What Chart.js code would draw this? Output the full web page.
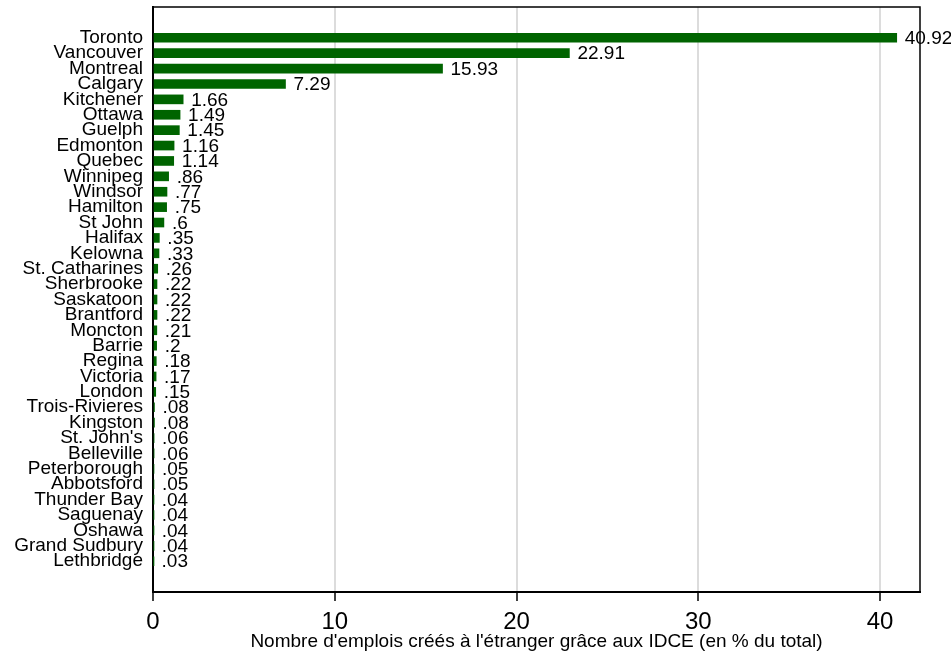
<!DOCTYPE html>
<html>
<head>
<meta charset="utf-8">
<script src="https://cdn.jsdelivr.net/npm/chart.js@4"></script>
<style>
    html, body { margin: 0; padding: 0; background: #fff; }
    #wrap { width: 951px; height: 653px; }
</style>
</head>
<body>
<div id="wrap"><canvas id="jobsChart"></canvas></div>
<script>
// Cities and share of jobs created abroad (% of total)
const cities = ['Toronto', 'Vancouver', 'Montreal', 'Calgary', 'Kitchener', 'Ottawa', 'Guelph',
    'Edmonton', 'Quebec', 'Winnipeg', 'Windsor', 'Hamilton', 'St John', 'Halifax', 'Kelowna',
    'St. Catharines', 'Sherbrooke', 'Saskatoon', 'Brantford', 'Moncton', 'Barrie', 'Regina',
    'Victoria', 'London', 'Trois-Rivieres', 'Kingston', "St. John's", 'Belleville', 'Peterborough',
    'Abbotsford', 'Thunder Bay', 'Saguenay', 'Oshawa', 'Grand Sudbury', 'Lethbridge'];
const shares = [40.92, 22.91, 15.93, 7.29, 1.66, 1.49, 1.45, 1.16, 1.14, .86, .77, .75, .6, .35, .33,
    .26, .22, .22, .22, .21, .2, .18, .17, .15, .08, .08, .06, .06, .05, .05, .04, .04, .04, .04, .03];
const xTicks = [0, 10, 20, 30, 40];
const axisTitle = "Nombre d'emplois créés à l'étranger grâce aux IDCE (en % du total)";

const FONT = '"Liberation Sans", Arial, sans-serif';

// Stata-like number format: drop the leading zero
function fmt(v) {
    return String(v).replace(/^0\./, '.');
}

// Value labels at the end of each bar, plus the top/right frame
const barLabels = {
    id: 'barLabels',
    afterDatasetsDraw(chart) {
        const ctx = chart.ctx;
        const meta = chart.getDatasetMeta(0);
        ctx.save();
        ctx.font = '19px ' + FONT;
        ctx.fillStyle = '#000';
        ctx.textAlign = 'left';
        ctx.textBaseline = 'middle';
        meta.data.forEach((bar, i) => {
            ctx.fillText(fmt(shares[i]), bar.x + 8, bar.y + 1);
        });
        ctx.restore();
    },
    afterDraw(chart) {
        const a = chart.chartArea;
        const ctx = chart.ctx;
        ctx.save();
        ctx.strokeStyle = '#000';
        ctx.lineWidth = 1.5;
        ctx.beginPath();
        ctx.moveTo(a.left, a.top);
        ctx.lineTo(a.right, a.top);
        ctx.lineTo(a.right, a.bottom);
        ctx.stroke();
        ctx.restore();
    }
};

const ctx = document.getElementById('jobsChart').getContext('2d');
new Chart(ctx, {
    type: 'bar',
    data: {
        datasets: [{
            data: shares.map((v, i) => ({ x: v, y: i })),
            backgroundColor: '#006400',
            borderWidth: 0,
            barThickness: 9
        }]
    },
    options: {
        indexAxis: 'y',
        responsive: true,
        maintainAspectRatio: false,
        animation: false,
        layout: { padding: { top: 7, right: 31, left: 0, bottom: 0 } },
        plugins: {
            legend: { display: false },
            tooltip: { enabled: false }
        },
        scales: {
            x: {
                type: 'linear',
                min: 0,
                max: 42.2,
                afterBuildTicks(scale) {
                    scale.ticks = xTicks.map(v => ({ value: v }));
                },
                afterFit(scale) {
                    scale.height = 61;
                    scale.paddingLeft = 0;
                    scale.paddingRight = 0;
                },
                grid: {
                    color: ctx => ctx.tick && ctx.tick.value === 0 ? 'rgba(0,0,0,0)' : '#dcdcdc',
                    lineWidth: 2,
                    tickColor: '#000',
                    tickWidth: 1.5,
                    tickLength: 9,
                    drawTicks: true
                },
                border: { color: '#000', width: 2 },
                ticks: {
                    color: '#000',
                    font: { family: FONT, size: 24 },
                    padding: 7,
                    maxRotation: 0
                },
                title: {
                    display: true,
                    text: axisTitle,
                    color: '#000',
                    font: { family: FONT, size: 19 },
                    padding: { top: -6, bottom: 0 }
                }
            },
            y: {
                type: 'linear',
                reverse: true,
                offset: false,
                min: -2,
                max: 36,
                afterBuildTicks(scale) {
                    scale.ticks = cities.map((c, i) => ({ value: i }));
                },
                afterFit(scale) {
                    scale.width = 153;
                    scale.paddingTop = 0;
                    scale.paddingBottom = 0;
                },
                grid: { display: false, drawTicks: false, offset: false },
                border: { color: '#000', width: 2 },
                ticks: {
                    autoSkip: false,
                    color: '#000',
                    font: { family: FONT, size: 19 },
                    padding: 10,
                    callback: v => cities[v] !== undefined ? cities[v] : ''
                }
            }
        }
    },
    plugins: [barLabels]
});
</script>
</body>
</html>
